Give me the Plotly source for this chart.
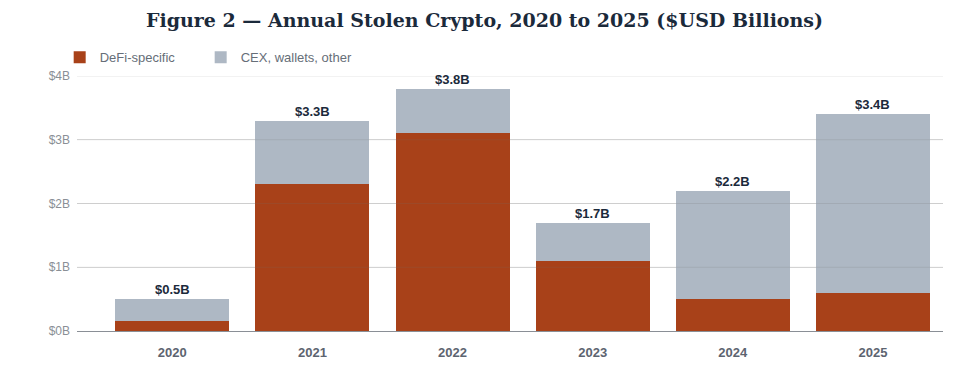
import plotly.graph_objects as go

years = ["2020", "2021", "2022", "2023", "2024", "2025"]
defi = [0.15, 2.3, 3.1, 1.1, 0.5, 0.6]
other = [0.35, 1.0, 0.7, 0.6, 1.7, 2.8]
totals = [0.5, 3.3, 3.8, 1.7, 2.2, 3.4]
total_labels = ["$0.5B", "$3.3B", "$3.8B", "$1.7B", "$2.2B", "$3.4B"]
y_ticks = [0, 1, 2, 3, 4]
y_tick_labels = ["$0B", "$1B", "$2B", "$3B", "$4B"]

fig = go.Figure()
fig.add_trace(go.Bar(x=years, y=defi, name="DeFi-specific", legendwidth=96,
                     marker=dict(color="#a84119", line=dict(width=0))))
fig.add_trace(go.Bar(x=years, y=other, name="CEX, wallets, other", legendwidth=130,
                     marker=dict(color="#aeb8c4", line=dict(width=0))))

# total labels above each stack (category axis: position by category index)
for i, (t, lab) in enumerate(zip(totals, total_labels)):
    fig.add_annotation(x=i, y=t, text="<b>" + lab + "</b>", showarrow=False,
                       xref="x", yref="y",
                       yanchor="bottom", yshift=0,
                       font=dict(family="Liberation Sans, Arial, sans-serif", size=13, color="#1b2a3b"))

# gridlines drawn over the bars (as in the reference)
for v in y_ticks[1:]:
    fig.add_shape(type="line", xref="paper", yref="y", x0=0, x1=1, y0=v, y1=v,
                  layer="above", line=dict(color="rgba(110,110,110,0.18)", width=1))

fig.update_layout(
    width=969, height=383,
    barmode="stack", bargap=0.186,
    plot_bgcolor="white", paper_bgcolor="white",
    margin=dict(l=77, r=26, t=76, b=52),
    title=dict(text="<b>Figure 2 — Annual Stolen Crypto, 2020 to 2025 ($USD Billions)</b>",
               x=0.5, xanchor="center", y=0.947, yanchor="middle",
               font=dict(family="DejaVu Serif", size=19, color="#1b2a3b")),
    legend=dict(orientation="h", x=-0.02, xanchor="left", y=1.015, yanchor="bottom",
                bgcolor="rgba(0,0,0,0)",
                font=dict(family="Liberation Sans, Arial, sans-serif", size=13, color="#666e78"),
                traceorder="normal", itemwidth=30, entrywidthmode="pixels"),
    xaxis=dict(type="category", range=[-0.68, 5.5], showgrid=False, showline=True,
               linecolor="#8a8f96", linewidth=1, ticklabelstandoff=9,
               ticks="", tickfont=dict(family="Liberation Sans, Arial, sans-serif", size=13, color="#5d6470"),
               tickprefix="<b>", ticksuffix="</b>", fixedrange=True),
    yaxis=dict(range=[0, 4], tickvals=y_ticks, ticktext=y_tick_labels, showgrid=True,
               gridcolor="#e3e3e3", gridwidth=1, zeroline=False, showline=False,
               ticks="", ticklabelstandoff=6,
               tickfont=dict(family="Liberation Sans, Arial, sans-serif", size=12, color="#8a8f96")),
)

fig.write_html("out.html", config={"displayModeBar": False},
               post_script="document.body.style.margin='0';")
